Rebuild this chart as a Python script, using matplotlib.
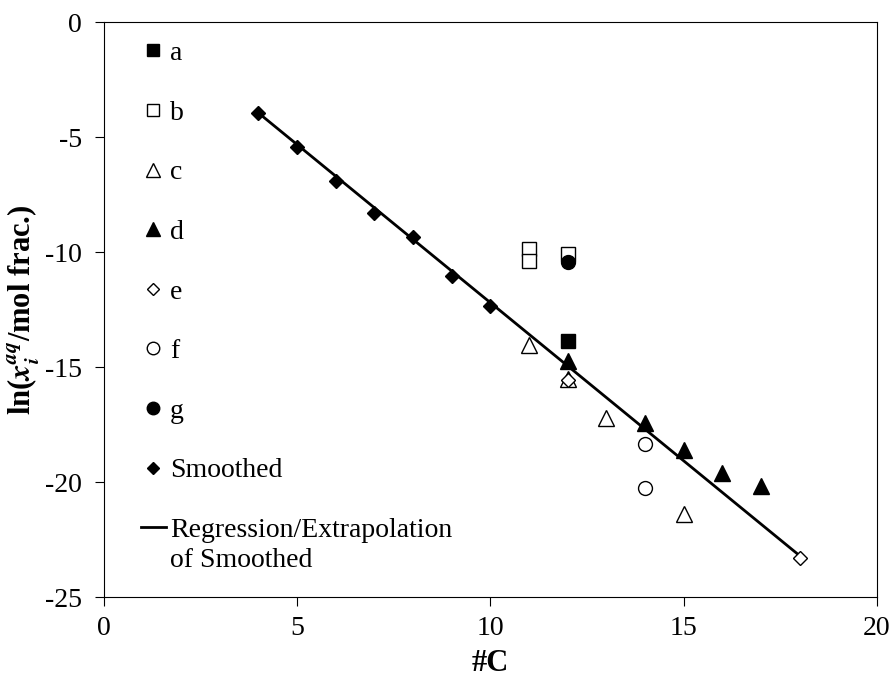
import numpy as np
import matplotlib
matplotlib.use("Agg")
import matplotlib.pyplot as plt

plt.rcParams['font.family'] = ['Liberation Serif', 'DejaVu Serif']
plt.rcParams['mathtext.fontset'] = 'stix'
plt.rcParams['axes.unicode_minus'] = False

# data
a_x = [12]
a_y = [-13.85]
b_x = [11, 11, 12]
b_y = [-9.85, -10.4, -10.1]
c_x = [11, 12, 13, 15]
c_y = [-14.05, -15.5, -17.2, -21.4]
d_x = [12, 14, 15, 16, 17]
d_y = [-14.75, -17.45, -18.6, -19.6, -20.15]
e_x = [12, 18]
e_y = [-15.55, -23.3]
f_x = [14, 14]
f_y = [-18.35, -20.25]
g_x = [12]
g_y = [-10.45]
smooth_x = [4, 5, 6, 7, 8, 9, 10]
smooth_y = [-3.95, -5.43, -6.9, -8.3, -9.35, -11.05, -12.35]
reg_x = [4, 18]
reg_y = [-3.95, -23.2]

fig = plt.figure(figsize=(8.94, 6.77), dpi=100)
ax = fig.add_axes([0.116, 0.118, 0.865, 0.8495])

ms = 10
ax.plot(a_x, a_y, 's', color='black', ms=ms, label='a')
ax.plot(b_x, b_y, 's', mfc='white', mec='black', mew=1, ms=ms, label='b')
ax.plot(c_x, c_y, '^', mfc='white', mec='black', mew=1, ms=ms + 1, label='c')
ax.plot(d_x, d_y, '^', color='black', ms=ms + 1, label='d')
ax.plot(e_x, e_y, 'D', mfc='white', mec='black', mew=1, ms=ms - 3, label='e')
ax.plot(f_x, f_y, 'o', mfc='white', mec='black', mew=1, ms=ms, label='f')
ax.plot(g_x, g_y, 'o', color='black', ms=ms, label='g')
ax.plot(smooth_x, smooth_y, 'D', color='black', ms=ms - 3, label='Smoothed')
ax.plot(reg_x, reg_y, '-', color='black', lw=2,
        label='Regression/Extrapolation\nof Smoothed', zorder=1)

ax.set_xlim(0, 20)
ax.set_ylim(-25, 0)
ax.set_xticks(np.arange(0, 21, 5))
ax.set_yticks(np.arange(-25, 1, 5))
ax.tick_params(direction='out', labelsize=20, length=6.5)
ax.tick_params(axis='y', pad=9)
ax.tick_params(axis='x', pad=7)
ax.set_xlabel('#C', fontsize=22, fontweight='bold', labelpad=6)
ax.set_ylabel(r'ln($\mathbfit{x}_{\mathbfit{i}}^{\mathbfit{aq}}$/mol frac.)',
              fontsize=22, fontweight='bold', labelpad=2)

leg = ax.legend(loc='upper left', frameon=False, fontsize=20, labelspacing=1.23,
                handlelength=0.9, handletextpad=0.15, borderaxespad=0.27,
                bbox_to_anchor=(0.024, 1.0), markerscale=0.9)
leg.get_texts()[-1].set_linespacing(1.3)
# put the line handle at the level of the first label line
reg_handle = leg.get_lines()[-1]
reg_handle.set_ydata(np.asarray(reg_handle.get_ydata()) + 13)

plt.savefig('out.png', dpi=100)
